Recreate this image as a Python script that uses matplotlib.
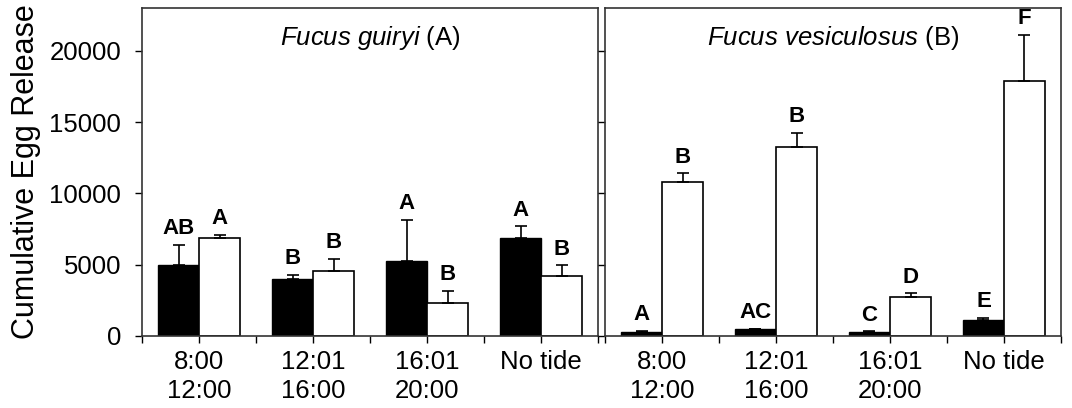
import matplotlib
matplotlib.use('Agg')
from matplotlib import pyplot as plt
import numpy as np

plt.rcParams['font.family'] = ['Liberation Sans', 'DejaVu Sans']
plt.rcParams['mathtext.fontset'] = 'custom'
plt.rcParams['mathtext.it'] = 'Liberation Sans:italic'
plt.rcParams['mathtext.rm'] = 'Liberation Sans'

periods = ['8:00\n12:00', '12:01\n16:00', '16:01\n20:00', 'No tide']

# Fucus guiryi (A)
guiryi_black = [5000, 4000, 5270, 6900]
guiryi_black_err = [1400, 300, 2900, 800]
guiryi_white = [6900, 4570, 2290, 4240]
guiryi_white_err = [200, 840, 880, 720]
guiryi_black_letters = ['AB', 'B', 'A', 'A']
guiryi_white_letters = ['A', 'B', 'B', 'B']

# Fucus vesiculosus (B)
vesic_black = [300, 470, 280, 1120]
vesic_black_err = [60, 50, 40, 160]
vesic_white = [10790, 13240, 2750, 17900]
vesic_white_err = [630, 1000, 250, 3240]
vesic_black_letters = ['A', 'AC', 'C', 'E']
vesic_white_letters = ['B', 'B', 'D', 'F']

fig = plt.figure(figsize=(10.72, 4.08), dpi=100)
ax1 = fig.add_axes([0.1325, 0.1765, 0.4255, 0.8035])
ax2 = fig.add_axes([0.5644, 0.1765, 0.4253, 0.8035])

x = np.arange(4) + 0.5
w = 0.36


def panel(ax, black, black_err, white, white_err, bl, wl, title):
    ax.bar(x - w / 2, black, w, color='black', edgecolor='black', lw=1,
           yerr=[np.zeros(4), black_err], capsize=4,
           error_kw=dict(ecolor='black', elinewidth=1.2, capthick=1.2))
    ax.bar(x + w / 2, white, w, color='white', edgecolor='black', lw=1.2,
           yerr=[np.zeros(4), white_err], capsize=4,
           error_kw=dict(ecolor='black', elinewidth=1.2, capthick=1.2))
    for i in range(4):
        ax.annotate(bl[i], (x[i] - w / 2, black[i] + black_err[i]),
                    xytext=(0, 4), textcoords='offset points', ha='center',
                    va='bottom', fontsize=16, fontweight='bold')
        ax.annotate(wl[i], (x[i] + w / 2, white[i] + white_err[i]),
                    xytext=(0, 4), textcoords='offset points', ha='center',
                    va='bottom', fontsize=16, fontweight='bold')
    ax.set_xlim(0, 4)
    ax.set_ylim(0, 23000)
    ax.set_xticks(x)
    ax.set_xticklabels(periods, fontsize=18.5, linespacing=1.25)
    ax.set_xticks(np.arange(5), minor=True)
    ax.tick_params(axis='x', which='both', direction='out', length=5,
                   width=1, pad=5)
    ax.set_yticks([0, 5000, 10000, 15000, 20000])
    ax.tick_params(axis='y', direction='out', length=5, width=1,
                   labelsize=18.5, pad=10)
    for s in ax.spines.values():
        s.set_color('#333333')
        s.set_linewidth(1.2)
    ax.text(0.5, 0.887, title, transform=ax.transAxes, ha='center',
            va='baseline', fontsize=18.5)


panel(ax1, guiryi_black, guiryi_black_err, guiryi_white, guiryi_white_err,
      guiryi_black_letters, guiryi_white_letters,
      r'$\it{Fucus\ guiryi}$ (A)')
panel(ax2, vesic_black, vesic_black_err, vesic_white, vesic_white_err,
      vesic_black_letters, vesic_white_letters,
      r'$\it{Fucus\ vesiculosus}$ (B)')
ax2.set_yticklabels([])
ax1.set_ylabel('Cumulative Egg Release', fontsize=22, labelpad=6)

plt.savefig('out.png', dpi=100)
